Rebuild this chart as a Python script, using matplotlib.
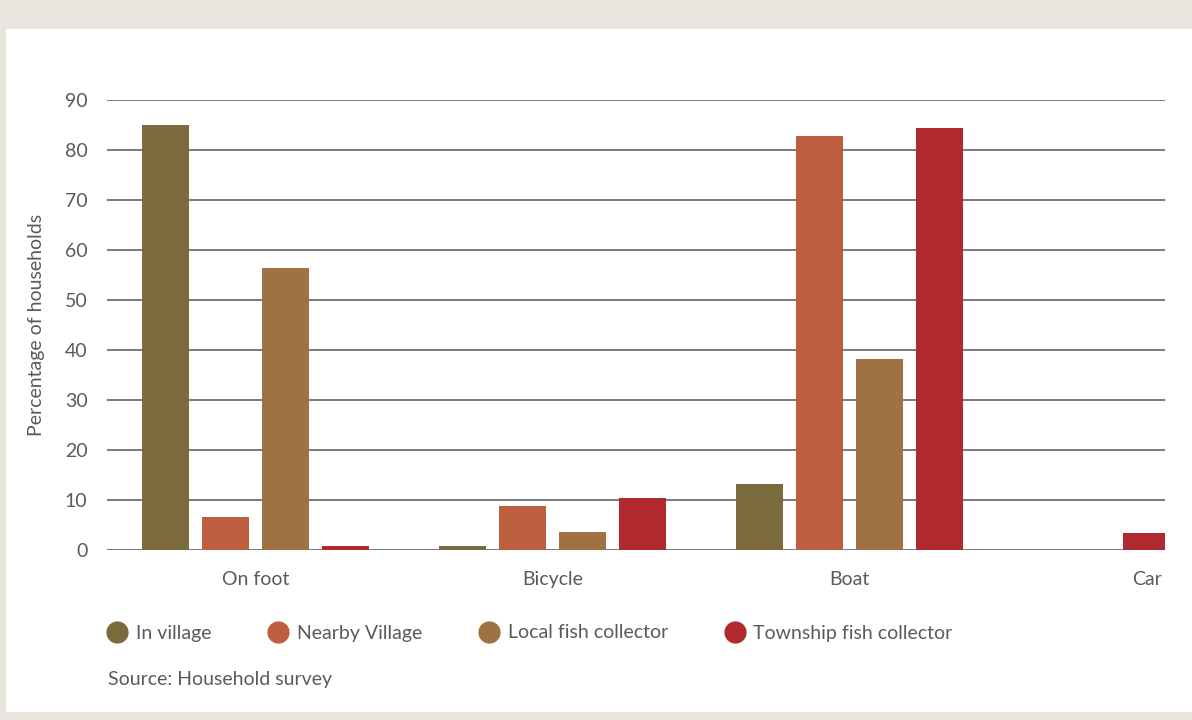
import matplotlib
matplotlib.use("Agg")
import matplotlib.pyplot as plt
from matplotlib.patches import Rectangle
from matplotlib.lines import Line2D

categories = ["On foot", "Bicycle", "Boat", "Car"]
series_names = ["In village", "Nearby Village", "Local fish collector", "Township fish collector"]
in_village = [85.0, 0.8, 13.3, None]
nearby_village = [6.6, 8.9, 82.8, None]
local_collector = [56.4, 3.7, 38.2, None]
township_collector = [0.9, 10.4, 84.4, 3.5]
colors = ["#7a6a3c", "#bd5e41", "#a07143", "#b1292f"]
yticks = [0, 10, 20, 30, 40, 50, 60, 70, 80, 90]

series = [in_village, nearby_village, local_collector, township_collector]

plt.rcParams['font.family'] = ['Lato', 'DejaVu Sans']
text_color = "#5a5a5a"
fs = 14

fig = plt.figure(figsize=(11.92, 7.2), dpi=100)
fig.patch.set_facecolor("#e9e5de")
fig.patches.append(Rectangle((6/1192, 8/720), 1186/1192, 683/720,
                             transform=fig.transFigure, facecolor="white",
                             edgecolor="none", zorder=-5))

ax = fig.add_axes([107/1192, 170/720, 1058/1192, 450/720])
ax.set_facecolor("white")
ax.set_zorder(2)

bar_w = 0.158
step = 0.202
for ci, cat in enumerate(categories):
    present = [si for si in range(len(series)) if series[si][ci] is not None]
    n = len(present)
    for k, si in enumerate(present):
        x = ci + (k - (n - 1) / 2) * step
        ax.bar(x, series[si][ci], width=bar_w, color=colors[si], zorder=3)

ax.set_xlim(-0.5, 3.062)
ax.set_ylim(0, 90)
ax.set_yticks(yticks)
ax.set_xticks(range(len(categories)))
ax.set_xticklabels(categories)
for y in yticks:
    ax.axhline(y, color="#6e6e6e", linewidth=1.3, zorder=1)
for s in ax.spines.values():
    s.set_visible(False)
ax.tick_params(axis="both", length=0, labelsize=fs, colors=text_color)
ax.tick_params(axis="x", pad=15)
ax.tick_params(axis="y", pad=14)
ax.set_ylabel("Percentage of households", fontsize=fs, color=text_color, labelpad=14)

handles = [Line2D([0], [0], marker="o", linestyle="none", markersize=15,
                  markerfacecolor=c, markeredgecolor=c) for c in colors]
leg = fig.legend(handles, series_names, loc="center left", bbox_to_anchor=(88/1192, 1 - 633/720),
                 ncol=4, frameon=False, fontsize=fs, labelcolor=text_color,
                 handletextpad=0.35, columnspacing=2.85, handlelength=1.2)

fig.text(108/1192, 1 - 679/720, "Source: Household survey", fontsize=fs,
         color=text_color, va="center", ha="left")

fig.savefig("out.png", dpi=100, facecolor=fig.get_facecolor())
